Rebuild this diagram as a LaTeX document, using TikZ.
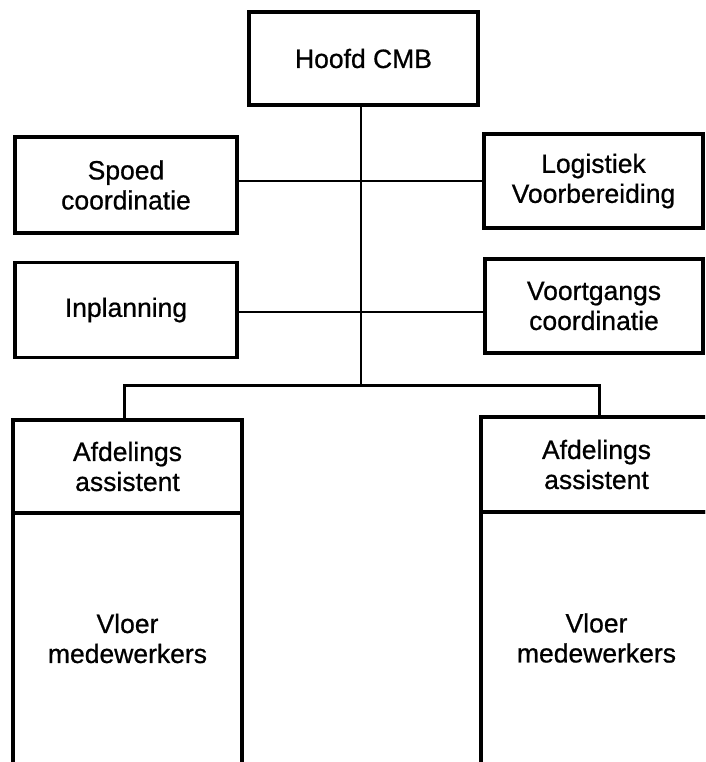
\documentclass[tikz,border=0pt]{standalone}
\usepackage{fontspec}
\setmainfont{Liberation Sans}
\newfontfamily\labelfont{Liberation Sans}[FakeBold=0.7]
\begin{document}
\begin{tikzpicture}[x=1pt,y=-1pt,
  box/.style={draw, line width=3.4pt, rectangle, inner sep=0pt, align=center,
              font=\labelfont\fontsize{26.5}{30}\selectfont},
  link/.style={line width=1.9pt},
  drop/.style={line width=3pt}]
\useasboundingbox (0,0) rectangle (705,762);
\begin{scope}
\clip (0,0) rectangle (705,762);

% head of the department
\node[box, minimum width=229pt, minimum height=93pt] (hoofd) at (363.5,58.5) {Hoofd CMB};

% staff functions
\node[box, minimum width=222pt, minimum height=96pt] (spoed) at (126,185) {Spoed\\coordinatie};
\node[box, minimum width=222pt, minimum height=95pt] (inpl)  at (126,310) {Inplanning};
\node[box, minimum width=219pt, minimum height=94pt] (logi)  at (593.5,181) {Logistiek\\Voorbereiding};
\node[box, minimum width=218pt, minimum height=94pt] (voort) at (594,306) {Voortgangs\\coordinatie};

% the two departments
\node[box, minimum width=229pt, minimum height=93pt]  (afdL)   at (127.5,466.5) {Afdelings\\assistent};
\node[box, minimum width=229pt, minimum height=251pt] (vloerL) at (127.5,638.5) {Vloer\\medewerkers};
\node[box, minimum width=231pt, minimum height=95pt]  (afdR)   at (596.5,464.5) {Afdelings\\assistent};
\node[box, minimum width=231pt, minimum height=252pt] (vloerR) at (596.5,638) {Vloer\\medewerkers};

% junction points of the tree
\coordinate (hub) at (361,385);
\coordinate (r2)  at (361,312);
\coordinate (dl)  at (124,385);
\coordinate (dr)  at (599,385);

% connectors
\draw[link] (hoofd.south -| hub) -- (hub);
\draw[link] (spoed.east |- logi.west) -- (logi.west);
\draw[link] (inpl.east |- r2) -- (voort.west |- r2);
\draw[drop] (afdL.north -| dl) -- (dl) -- (dr) -- (afdR.north -| dr);
\end{scope}
\end{tikzpicture}
\end{document}
